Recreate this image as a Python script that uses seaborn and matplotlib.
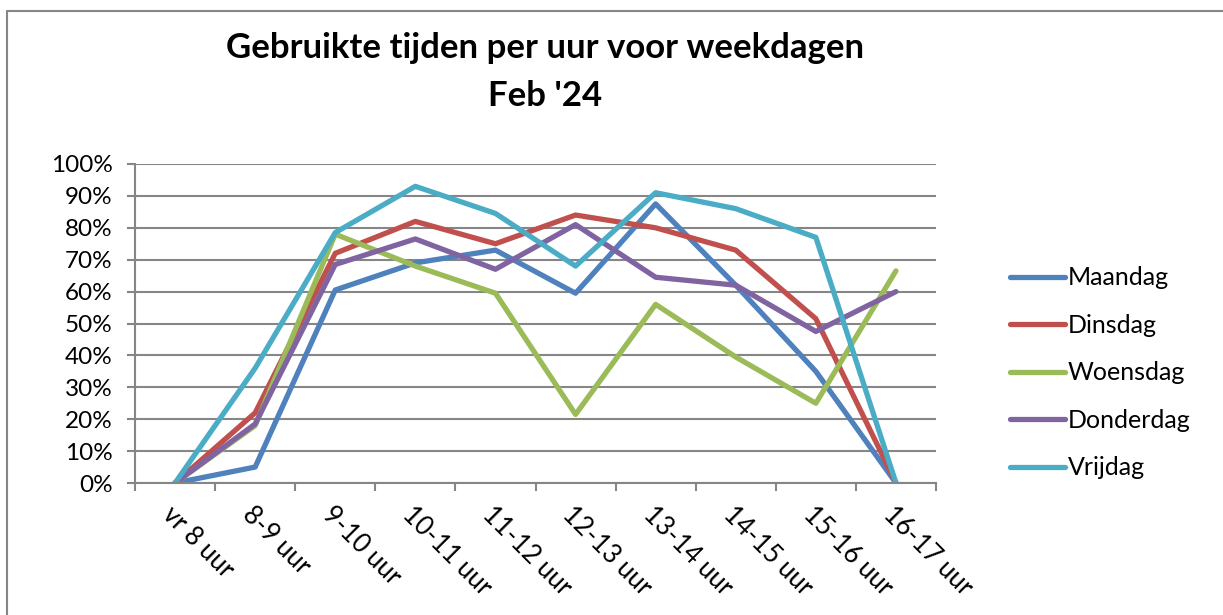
import pandas as pd
import matplotlib.pyplot as plt
import seaborn as sns
from matplotlib.lines import Line2D
from matplotlib.ticker import FixedLocator, PercentFormatter

# data (percent)
hours = ["vr 8 uur", "8-9 uur", "9-10 uur", "10-11 uur", "11-12 uur",
         "12-13 uur", "13-14 uur", "14-15 uur", "15-16 uur", "16-17 uur"]
days = ["Maandag", "Dinsdag", "Woensdag", "Donderdag", "Vrijdag"]

maandag = [0, 5, 60.5, 69, 73, 59.5, 87.5, 62, 35, 0]
dinsdag = [0, 22, 72, 82, 75, 84, 80, 73, 51.5, 0]
woensdag = [0, 18, 78, 68, 59.5, 21.5, 56, 39.5, 25, 66.5]
donderdag = [0, 18.5, 68.5, 76.5, 67, 81, 64.5, 62, 47.5, 60]
vrijdag = [0, 36, 78.5, 93, 84.5, 68, 91, 86, 77, 0]

colors = ["#4F81BD", "#C0504D", "#9BBB59", "#8064A2", "#4BACC6"]

rows = []
for day, vals in zip(days, [maandag, dinsdag, woensdag, donderdag, vrijdag]):
    for i, v in enumerate(vals):
        rows.append({"pos": i, "uur": hours[i], "dag": day, "pct": v})
df = pd.DataFrame(rows)

sns.set_style("white")
plt.rcParams["font.family"] = ["Lato", "DejaVu Sans"]
plt.rcParams["text.color"] = "black"
plt.rcParams["ytick.labelcolor"] = "black"

fig = plt.figure(figsize=(12.23, 6.15), dpi=100)
ax = fig.add_axes([135 / 1223, 1 - 483 / 615, (936 - 135) / 1223, (483 - 164) / 615])

sns.lineplot(data=df, x="pos", y="pct", hue="dag", hue_order=days,
             palette=colors, linewidth=3.8, ax=ax, sort=False)

grid_c = "#868686"
ax.set_xlim(-0.5, 9.5)
ax.set_ylim(0, 100)
ax.yaxis.set_major_locator(FixedLocator(range(0, 101, 10)))
ax.yaxis.set_major_formatter(PercentFormatter(decimals=0))
ax.xaxis.set_major_locator(FixedLocator([i - 0.5 for i in range(11)]))
ax.set_xticklabels([])
ax.grid(axis="y", color=grid_c, linewidth=1.5)
ax.set_axisbelow(True)
for s in ["top", "right"]:
    ax.spines[s].set_visible(False)
for s in ["left", "bottom"]:
    ax.spines[s].set_color(grid_c)
    ax.spines[s].set_linewidth(1.5)
ax.tick_params(axis="both", direction="out", length=6, width=1.5, color=grid_c,
               bottom=True, left=True)
ax.tick_params(axis="y", labelsize=17.5, pad=10, labelcolor="black")
ax.set_xlabel("")
ax.set_ylabel("")

# rotated category labels, Excel style
for i, lab in enumerate(hours):
    ax.text(i + 0.0, -0.06, lab, transform=ax.get_xaxis_transform(), color="black",
            rotation=-45, rotation_mode="anchor", ha="left", va="top", fontsize=18.5)

leg = ax.legend(loc="center left", bbox_to_anchor=(1.08, 0.345), frameon=False,
                fontsize=18, handlelength=2.2, handletextpad=0.12, labelspacing=0.98,
                borderaxespad=0)
for t in leg.get_texts():
    t.set_color("black")

fig.text(545 / 1223, 1 - 72 / 615, "Gebruikte tijden per uur voor weekdagen\nFeb '24",
         ha="center", va="center", fontsize=25, fontweight="bold", linespacing=1.6,
         color="black")

# chart border (left and top only visible)
fig.add_artist(Line2D([7 / 1223, 7 / 1223], [0, 1 - 11 / 615], color=grid_c, lw=1.5))
fig.add_artist(Line2D([7 / 1223, 1], [1 - 11 / 615, 1 - 11 / 615], color=grid_c, lw=1.5))

fig.savefig("out.png", dpi=100)
